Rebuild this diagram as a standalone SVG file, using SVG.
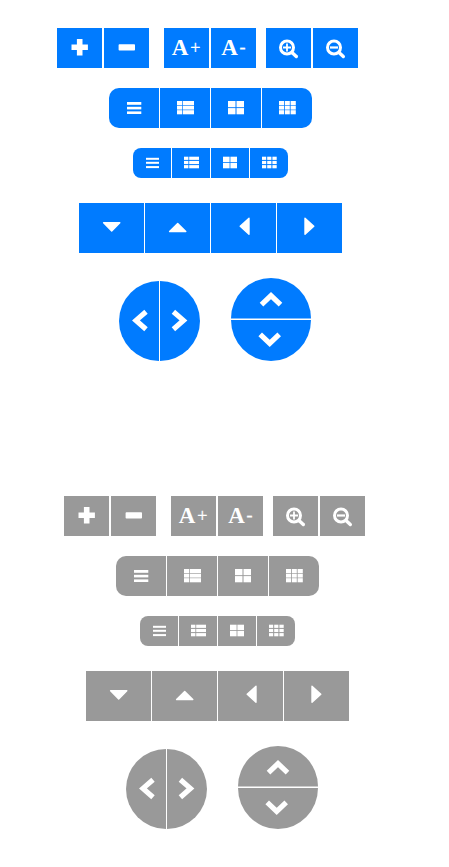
<svg xmlns="http://www.w3.org/2000/svg" width="449" height="867" viewBox="0 0 449 867">
<style>
.blue{fill:#007bff}.gray{fill:#999}
.i{fill:#fff}.s{fill:none;stroke:#fff;stroke-width:5.2;stroke-linejoin:miter}
.m{fill:none;stroke:#fff;stroke-width:3}
.h{fill:none;stroke:#fff;stroke-width:3.4;stroke-linecap:round}
.a{font-family:"Liberation Serif",serif;font-weight:700;font-size:23px;fill:#fff}
.p{font-family:"Liberation Serif",serif;font-weight:400;font-size:18px;fill:#fff;stroke:#fff;stroke-width:.3}
.t{fill:#fff;stroke:#fff;stroke-width:1.4;stroke-linejoin:round}
</style>
<defs>
<path id="i-plus" class="i" d="M-2.8-8.200h5.600v5.400H8.200v5.600H2.800V8.200h-5.600V2.800H-8.200v-5.600h5.400z"/>
<rect id="i-minus" class="i" x="-8.200" y="-3.200" width="16.400" height="6.400" rx=".8"/>
<g id="i-zin"><circle class="m" cx="0" cy="0" r="6.500"/><path class="h" d="M5.500 5.500L9.300 9"/><path class="i" d="M-.9-4h1.800v3.100H4v1.800H.9V4h-1.800V.9H-4v-1.800h3.100z"/></g>
<g id="i-zout"><circle class="m" cx="0" cy="0" r="6.500"/><path class="h" d="M5.500 5.500L9.300 9"/><rect class="i" x="-4" y="-1.100" width="8" height="2.200"/></g>
<g id="i-l1" class="i"><rect x="0" y="0" width="14.300" height="2.800"/><rect x="0" y="4.800" width="14.300" height="2.600"/><rect x="0" y="9.400" width="14.300" height="2.600"/></g>
<g id="i-l2" class="i"><rect x="0" y="0" width="5.300" height="4.200"/><rect x="6" y="0" width="11" height="4.200"/><rect x="0" y="4.800" width="5.300" height="3.800"/><rect x="6" y="4.800" width="11" height="3.800"/><rect x="0" y="9.200" width="5.300" height="4.100"/><rect x="6" y="9.200" width="11" height="4.100"/></g>
<g id="i-l3" class="i"><rect x="0" y="0" width="7.500" height="6.200"/><rect x="8.500" y="0" width="7.500" height="6.200"/><rect x="0" y="7.100" width="7.500" height="6.200"/><rect x="8.500" y="7.100" width="7.500" height="6.200"/></g>
<g id="i-l4" class="i"><rect x="0" y="0" width="5" height="4.200"/><rect x="5.800" y="0" width="5" height="4.200"/><rect x="11.600" y="0" width="5.200" height="4.200"/><rect x="0" y="4.800" width="5" height="3.800"/><rect x="5.800" y="4.800" width="5" height="3.800"/><rect x="11.600" y="4.800" width="5.200" height="3.800"/><rect x="0" y="9.200" width="5" height="4.100"/><rect x="5.800" y="9.200" width="5" height="4.100"/><rect x="11.600" y="9.200" width="5.200" height="4.100"/></g>
<g id="i-s1" class="i"><rect x="0" y="0" width="13" height="2"/><rect x="0" y="4" width="13" height="2"/><rect x="0" y="8.300" width="13" height="2"/></g>
<g id="i-s2" class="i"><rect x="0" y="0" width="4.400" height="3.200"/><rect x="5.200" y="0" width="9.800" height="3.200"/><rect x="0" y="4.200" width="4.400" height="3.200"/><rect x="5.200" y="4.200" width="9.800" height="3.200"/><rect x="0" y="8.400" width="4.400" height="3.200"/><rect x="5.200" y="8.400" width="9.800" height="3.200"/></g>
<g id="i-s3" class="i"><rect x="0" y="0" width="6.600" height="5.400"/><rect x="7.400" y="0" width="6.600" height="5.400"/><rect x="0" y="6.200" width="6.600" height="5.400"/><rect x="7.400" y="6.200" width="6.600" height="5.400"/></g>
<g id="i-s4" class="i"><rect x="0" y="0" width="4.200" height="3.200"/><rect x="5.200" y="0" width="4.200" height="3.200"/><rect x="10.400" y="0" width="4.300" height="3.200"/><rect x="0" y="4.200" width="4.200" height="3.200"/><rect x="5.200" y="4.200" width="4.200" height="3.200"/><rect x="10.400" y="4.200" width="4.300" height="3.200"/><rect x="0" y="8.400" width="4.200" height="3.200"/><rect x="5.200" y="8.400" width="4.200" height="3.200"/><rect x="10.400" y="8.400" width="4.300" height="3.200"/></g>
<path id="i-down" class="t" d="M103.600 222.800h16.200L111.700 231z"/>
<path id="i-up" class="t" d="M169.600 231.600h16.200L177.700 223.400z"/>
<path id="i-left" class="t" d="M249 218.200v16L240.200 226.200z"/>
<path id="i-right" class="t" d="M305 218.200v16L313.800 226.200z"/>
<path id="c-l" class="s" d="M146 311.800L136 320.400L146 329.200"/>
<path id="c-r" class="s" d="M173.400 311.800L183.400 320.400L173.400 329.200"/>
<path id="c-u" class="s" d="M261.500 304.600L271 295.600L280.500 304.600"/>
<path id="c-d" class="s" d="M260.200 334.400L269.700 343.400L279.200 334.400"/>
</defs>

<g id="set-blue" class="blue">
<g id="blue-plus"><rect x="57" y="28" width="45" height="40"/><use href="#i-plus" x="79.700" y="47.300"/></g>
<g id="blue-minus"><rect x="104" y="28" width="45" height="40"/><use href="#i-minus" x="126.800" y="47.400"/></g>
<g id="blue-font-up"><rect x="164" y="28" width="45" height="40"/><text class="a" x="171.700" y="55.300">A<tspan class="p" x="190.300" y="53.500">+</tspan></text></g>
<g id="blue-font-down"><rect x="211" y="28" width="45" height="40"/><text class="a" x="221.300" y="55.300">A<tspan class="p" x="239.400" y="52.500">-</tspan></text></g>
<g id="blue-zoom-in"><rect x="266" y="28" width="45" height="40"/><use href="#i-zin" x="287" y="47.500"/></g>
<g id="blue-zoom-out"><rect x="313" y="28" width="45" height="40"/><use href="#i-zout" x="334" y="47.500"/></g>

<g id="blue-list-lg"><path d="M119 88h40v40H119a10 10 0 0 1-10-10V98a10 10 0 0 1 10-10z"/><use href="#i-l1" x="127" y="102"/></g>
<g id="blue-thlist-lg"><rect x="160" y="88" width="50" height="40"/><use href="#i-l2" x="177" y="101"/></g>
<g id="blue-thlarge-lg"><rect x="211" y="88" width="50" height="40"/><use href="#i-l3" x="228" y="101"/></g>
<g id="blue-th-lg"><path d="M262 88H302a10 10 0 0 1 10 10v20a10 10 0 0 1-10 10H262z"/><use href="#i-l4" x="279" y="101"/></g>

<g id="blue-list-sm"><path d="M141 148h30v30H141a8 8 0 0 1-8-8v-14a8 8 0 0 1 8-8z"/><use href="#i-s1" x="146" y="157.800"/></g>
<g id="blue-thlist-sm"><rect x="172" y="148" width="38" height="30"/><use href="#i-s2" x="184" y="156.700"/></g>
<g id="blue-thlarge-sm"><rect x="211" y="148" width="38" height="30"/><use href="#i-s3" x="223" y="156.700"/></g>
<g id="blue-th-sm"><path d="M250 148H280a8 8 0 0 1 8 8v14a8 8 0 0 1-8 8h-30z"/><use href="#i-s4" x="262" y="156.700"/></g>

<g id="blue-down"><rect x="79" y="203" width="65" height="50"/><use href="#i-down"/></g>
<g id="blue-up"><rect x="145" y="203" width="65" height="50"/><use href="#i-up"/></g>
<g id="blue-left"><rect x="211" y="203" width="65" height="50"/><use href="#i-left"/></g>
<g id="blue-right"><rect x="277" y="203" width="65" height="50"/><use href="#i-right"/></g>

<g id="blue-prev"><path d="M159 281a40 40 0 0 0 0 80z"/><use href="#c-l"/></g>
<g id="blue-next"><path d="M160 281a40 40 0 0 1 0 80z"/><use href="#c-r"/></g>
<g id="blue-top"><path d="M231 318.500a40 40.500 0 0 1 80 0z"/><use href="#c-u"/></g>
<g id="blue-bottom"><path d="M231 320a40 41 0 0 0 80 0z"/><use href="#c-d"/></g>
</g>

<g id="set-gray" class="gray" transform="translate(7 468)">
<g id="gray-plus"><rect x="57" y="28" width="45" height="40"/><use href="#i-plus" x="79.700" y="47.300"/></g>
<g id="gray-minus"><rect x="104" y="28" width="45" height="40"/><use href="#i-minus" x="126.800" y="47.400"/></g>
<g id="gray-font-up"><rect x="164" y="28" width="45" height="40"/><text class="a" x="171.700" y="55.300">A<tspan class="p" x="190.300" y="53.500">+</tspan></text></g>
<g id="gray-font-down"><rect x="211" y="28" width="45" height="40"/><text class="a" x="221.300" y="55.300">A<tspan class="p" x="239.400" y="52.500">-</tspan></text></g>
<g id="gray-zoom-in"><rect x="266" y="28" width="45" height="40"/><use href="#i-zin" x="287" y="47.500"/></g>
<g id="gray-zoom-out"><rect x="313" y="28" width="45" height="40"/><use href="#i-zout" x="334" y="47.500"/></g>

<g id="gray-list-lg"><path d="M119 88h40v40H119a10 10 0 0 1-10-10V98a10 10 0 0 1 10-10z"/><use href="#i-l1" x="127" y="102"/></g>
<g id="gray-thlist-lg"><rect x="160" y="88" width="50" height="40"/><use href="#i-l2" x="177" y="101"/></g>
<g id="gray-thlarge-lg"><rect x="211" y="88" width="50" height="40"/><use href="#i-l3" x="228" y="101"/></g>
<g id="gray-th-lg"><path d="M262 88H302a10 10 0 0 1 10 10v20a10 10 0 0 1-10 10H262z"/><use href="#i-l4" x="279" y="101"/></g>

<g id="gray-list-sm"><path d="M141 148h30v30H141a8 8 0 0 1-8-8v-14a8 8 0 0 1 8-8z"/><use href="#i-s1" x="146" y="157.800"/></g>
<g id="gray-thlist-sm"><rect x="172" y="148" width="38" height="30"/><use href="#i-s2" x="184" y="156.700"/></g>
<g id="gray-thlarge-sm"><rect x="211" y="148" width="38" height="30"/><use href="#i-s3" x="223" y="156.700"/></g>
<g id="gray-th-sm"><path d="M250 148H280a8 8 0 0 1 8 8v14a8 8 0 0 1-8 8h-30z"/><use href="#i-s4" x="262" y="156.700"/></g>

<g id="gray-down"><rect x="79" y="203" width="65" height="50"/><use href="#i-down"/></g>
<g id="gray-up"><rect x="145" y="203" width="65" height="50"/><use href="#i-up"/></g>
<g id="gray-left"><rect x="211" y="203" width="65" height="50"/><use href="#i-left"/></g>
<g id="gray-right"><rect x="277" y="203" width="65" height="50"/><use href="#i-right"/></g>

<g id="gray-prev"><path d="M159 281a40 40 0 0 0 0 80z"/><use href="#c-l"/></g>
<g id="gray-next"><path d="M160 281a40 40 0 0 1 0 80z"/><use href="#c-r"/></g>
<g id="gray-top"><path d="M231 318.500a40 40.500 0 0 1 80 0z"/><use href="#c-u"/></g>
<g id="gray-bottom"><path d="M231 320a40 41 0 0 0 80 0z"/><use href="#c-d"/></g>
</g>
</svg>
